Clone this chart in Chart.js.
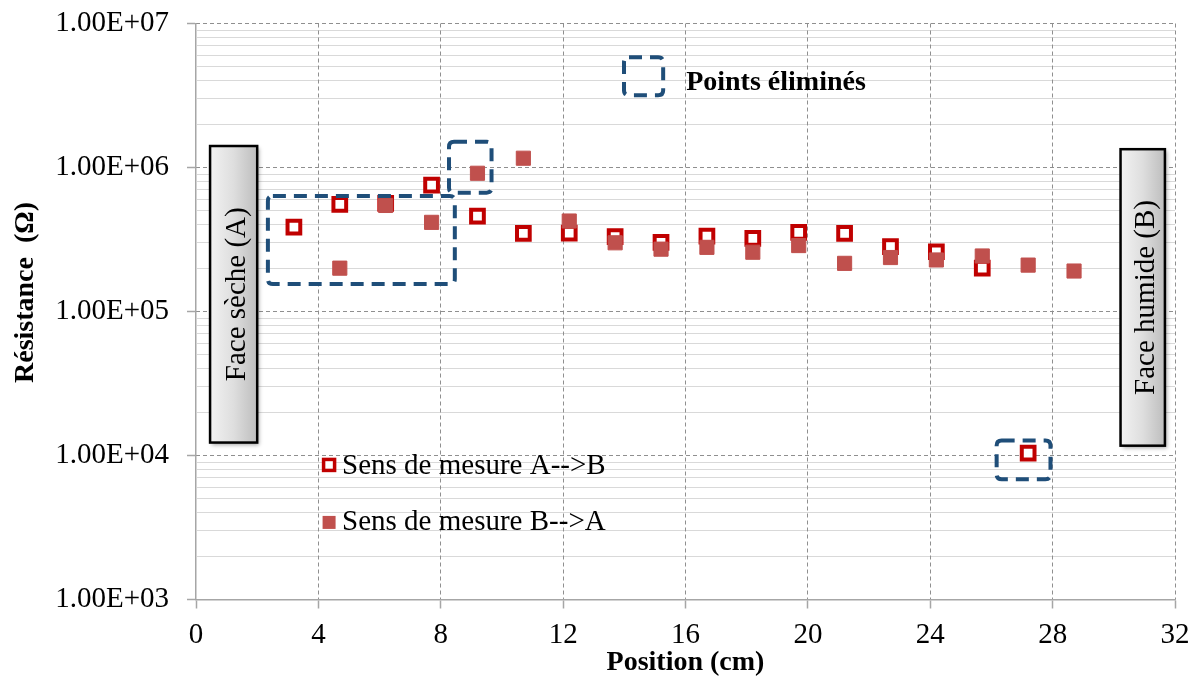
<!DOCTYPE html>
<html><head><meta charset="utf-8">
<script src="https://cdn.jsdelivr.net/npm/chart.js@4.4.0/dist/chart.umd.min.js"></script>
<style>html,body{margin:0;padding:0;background:#fff;}canvas{display:block;}</style>
</head><body>
<canvas id="c" width="1195" height="681"></canvas>
<script>
// ---- data ----
const positions = [3.2, 4.7, 6.2, 7.7, 9.2, 10.7, 12.2, 13.7, 15.2, 16.7, 18.2, 19.7, 21.2, 22.7, 24.2, 25.7, 27.2, 28.7];
const resistanceAB = [3.85e5, 5.55e5, 5.64e5, 7.55e5, 4.6e5, 3.49e5, 3.5e5, 3.31e5, 3.02e5, 3.34e5, 3.22e5, 3.55e5, 3.49e5, 2.82e5, 2.6e5, 2.0e5, 1.04e4, null];
const resistanceBA = [null, 2.0e5, 5.45e5, 4.16e5, 9.12e5, 1.16e6, 4.25e5, 3.0e5, 2.71e5, 2.79e5, 2.58e5, 2.87e5, 2.16e5, 2.37e5, 2.28e5, 2.43e5, 2.1e5, 1.91e5];
const seriesLabels = ['Sens de mesure A-->B', 'Sens de mesure B-->A'];
const xTicks = [0, 4, 8, 12, 16, 20, 24, 28, 32];
const yTicks = [1e3, 1e4, 1e5, 1e6, 1e7];
const yTickLabels = ['1.00E+03', '1.00E+04', '1.00E+05', '1.00E+06', '1.00E+07'];
const xTitle = 'Position (cm)';
const yTitle = 'Résistance  (Ω)';
const faceLabels = ['Face sèche (A)', 'Face humide (B)'];
const eliminatedLabel = 'Points éliminés';

// annotation regions in data units (x cm, y Ω)
const eliminatedRegions = [
  {x0: 2.35, x1: 8.46, y0: 1.55e5, y1: 6.34e5},
  {x0: 8.27, x1: 9.66, y0: 6.69e5, y1: 1.51e6},
  {x0: 26.17, x1: 27.93, y0: 6.84e3, y1: 1.27e4}
];
const eliminatedKey = {x0: 13.99, x1: 15.27, y0: 3.18e6, y1: 5.82e6};
const faceRegions = [
  {x0: 0.46, x1: 2.0, y0: 1.23e4, y1: 1.41e6},
  {x0: 30.22, x1: 31.67, y0: 1.17e4, y1: 1.34e6}
];

const SERIF = '"Liberation Serif", "Times New Roman", serif';
const RED = '#C00000';
const PINK = '#C0504D';
const BLUE = '#1F4E79';

function toPoints(vals) {
  return positions.map((x, i) => ({x: x, y: vals[i]})).filter(p => p.y !== null);
}

function roundRect(ctx, x, y, w, h, r) {
  ctx.beginPath();
  ctx.moveTo(x + r, y);
  ctx.lineTo(x + w - r, y);
  ctx.quadraticCurveTo(x + w, y, x + w, y + r);
  ctx.lineTo(x + w, y + h - r);
  ctx.quadraticCurveTo(x + w, y + h, x + w - r, y + h);
  ctx.lineTo(x + r, y + h);
  ctx.quadraticCurveTo(x, y + h, x, y + h - r);
  ctx.lineTo(x, y + r);
  ctx.quadraticCurveTo(x, y, x + r, y);
  ctx.closePath();
}

const overlay = {
  id: 'overlay',
  beforeDraw(chart) {
    const {ctx, chartArea: a, scales: {x, y}} = chart;
    ctx.save();
    // minor horizontal grid
    ctx.strokeStyle = '#d9d9d9';
    ctx.lineWidth = 1;
    for (let e = 3; e < 7; e++) {
      for (let m = 2; m <= 9; m++) {
        const py = Math.round(y.getPixelForValue(m * Math.pow(10, e)) - 0.5) + 0.5;
        ctx.beginPath(); ctx.moveTo(a.left + 1, py); ctx.lineTo(a.right, py); ctx.stroke();
      }
    }
    // major dashed grid
    ctx.setLineDash([4, 3]);
    ctx.strokeStyle = '#8f8f8f';
    yTicks.slice(1).forEach(v => {
      const py = Math.round(y.getPixelForValue(v) - 0.5) + 0.5;
      ctx.beginPath(); ctx.moveTo(a.left, py); ctx.lineTo(a.right, py); ctx.stroke();
    });
    xTicks.slice(1).forEach(v => {
      const px = Math.round(x.getPixelForValue(v) - 0.5) + 0.5;
      ctx.beginPath(); ctx.moveTo(px, a.top); ctx.lineTo(px, a.bottom); ctx.stroke();
    });
    ctx.restore();
  },
  afterDatasetsDraw(chart) {
    const {ctx, scales: {x, y}} = chart;
    ctx.save();
    // dashed boxes around eliminated points
    ctx.strokeStyle = BLUE;
    ctx.lineWidth = 4;
    ctx.setLineDash([13, 8]);
    eliminatedRegions.concat([eliminatedKey]).forEach(r => {
      const l = x.getPixelForValue(r.x0), rr = x.getPixelForValue(r.x1);
      const t = y.getPixelForValue(r.y1), b = y.getPixelForValue(r.y0);
      roundRect(ctx, l, t, rr - l, b - t, 5);
      ctx.stroke();
    });
    ctx.setLineDash([]);
    // key label
    ctx.fillStyle = '#000';
    ctx.font = 'bold 28px ' + SERIF;
    ctx.textAlign = 'left';
    ctx.textBaseline = 'alphabetic';
    ctx.fillText(eliminatedLabel, x.getPixelForValue(eliminatedKey.x1) + 23, y.getPixelForValue(eliminatedKey.y0) - 5);

    // face boxes
    faceRegions.forEach((r, i) => {
      const l = x.getPixelForValue(r.x0), rr = x.getPixelForValue(r.x1);
      const t = y.getPixelForValue(r.y1), b = y.getPixelForValue(r.y0);
      const g = ctx.createLinearGradient(l, 0, rr, 0);
      g.addColorStop(0, '#f2f2f2');
      g.addColorStop(0.5, '#dedede');
      g.addColorStop(1, '#bdbdbd');
      ctx.save();
      ctx.shadowColor = 'rgba(0,0,0,0.35)';
      ctx.shadowBlur = 4;
      ctx.shadowOffsetX = 2;
      ctx.shadowOffsetY = 2;
      ctx.fillStyle = g;
      ctx.fillRect(l, t, rr - l, b - t);
      ctx.restore();
      ctx.strokeStyle = '#000';
      ctx.lineWidth = 2.5;
      ctx.strokeRect(l, t, rr - l, b - t);
      ctx.save();
      ctx.translate((l + rr) / 2 + 11, (t + b) / 2);
      ctx.rotate(-Math.PI / 2);
      ctx.fillStyle = '#000';
      ctx.font = '29px ' + SERIF;
      ctx.textAlign = 'center';
      ctx.textBaseline = 'alphabetic';
      ctx.fillText(faceLabels[i], 0, 0);
      ctx.restore();
    });

    // legend
    const lx = x.getPixelForValue(4.35);
    const ly = [y.getPixelForValue(8.6e3), y.getPixelForValue(3.43e3)];
    ctx.fillStyle = '#fff';
    ctx.strokeStyle = RED;
    ctx.lineWidth = 3.5;
    ctx.fillRect(lx - 5.5, ly[0] - 5.5, 11, 11);
    ctx.strokeRect(lx - 5.5, ly[0] - 5.5, 11, 11);
    ctx.fillStyle = PINK;
    ctx.fillRect(lx - 6.5, ly[1] - 6.5, 13, 13);
    ctx.fillStyle = '#000';
    ctx.font = '29px ' + SERIF;
    ctx.textAlign = 'left';
    ctx.textBaseline = 'alphabetic';
    ctx.fillText(seriesLabels[0], lx + 13, ly[0] + 9);
    ctx.fillText(seriesLabels[1], lx + 13, ly[1] + 8);

    // y title
    ctx.save();
    ctx.translate(33, 292.5);
    ctx.rotate(-Math.PI / 2);
    ctx.font = 'bold 28px ' + SERIF;
    ctx.textAlign = 'center';
    ctx.fillText(yTitle, 0, 0);
    ctx.restore();
    ctx.restore();
  }
};

new Chart(document.getElementById('c'), {
  type: 'scatter',
  data: {
    datasets: [
      {label: seriesLabels[0], data: toPoints(resistanceAB), pointStyle: 'rect', pointRadius: 9, pointHoverRadius: 9,
       borderColor: RED, backgroundColor: '#ffffff', borderWidth: 4, order: 1},
      {label: seriesLabels[1], data: toPoints(resistanceBA), pointStyle: 'rect', pointRadius: 10, pointHoverRadius: 10,
       borderColor: PINK, backgroundColor: PINK, borderWidth: 1, order: 0}
    ]
  },
  options: {
    responsive: false,
    animation: false,
    events: [],
    layout: {padding: {left: 0, right: 20, top: 23.5, bottom: 0}},
    plugins: {legend: {display: false}, tooltip: {enabled: false}},
    scales: {
      x: {
        type: 'linear', min: 0, max: 32,
        afterBuildTicks: s => { s.ticks = xTicks.map(v => ({value: v})); },
        afterFit: s => { s.height = 81.5; s.paddingLeft = 0; s.paddingRight = 0; },
        ticks: {autoSkip: false, maxRotation: 0, padding: 9, color: '#000', font: {family: SERIF, size: 29}},
        grid: {drawOnChartArea: false, drawTicks: true, tickLength: 9, tickColor: '#a6a6a6', tickWidth: 1.5},
        border: {color: '#a6a6a6', width: 1.5},
        title: {display: true, text: xTitle, color: '#000', font: {family: SERIF, size: 28, weight: 'bold'}, padding: {top: 0, bottom: 1}}
      },
      y: {
        type: 'logarithmic', min: 1e3, max: 1e7,
        afterBuildTicks: s => { s.ticks = yTicks.map(v => ({value: v})); },
        afterFit: s => { s.width = 196; s.paddingTop = 0; s.paddingBottom = 0; },
        ticks: {autoSkip: false, padding: 18, color: '#000', font: {family: SERIF, size: 29},
                callback: (v) => yTickLabels[yTicks.indexOf(v)]},
        grid: {drawOnChartArea: false, drawTicks: true, tickLength: 9, tickColor: '#a6a6a6', tickWidth: 1.5},
        border: {color: '#a6a6a6', width: 1.5}
      }
    }
  },
  plugins: [overlay]
});
</script>
</body></html>
